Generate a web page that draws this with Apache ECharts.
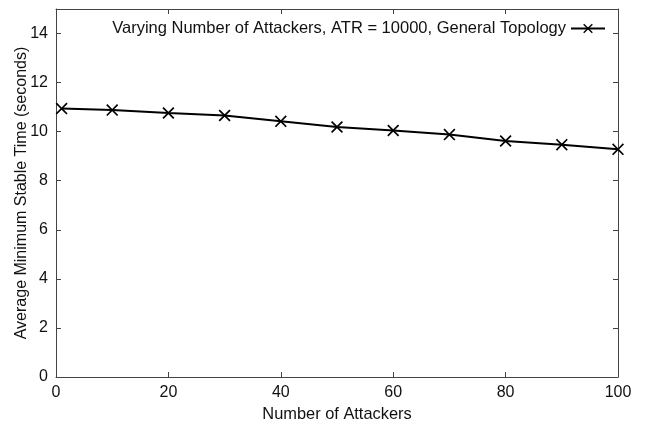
<!DOCTYPE html>
<html><head><meta charset="utf-8">
<script src="https://cdn.jsdelivr.net/npm/echarts@6/dist/echarts.min.js"></script>
<style>html,body{margin:0;padding:0;background:#fff}#c{width:645px;height:423px}</style>
</head><body><div id="c"></div>
<script>
const attackers = [1, 10, 20, 30, 40, 50, 60, 70, 80, 90, 100];
const stableTime = [10.94, 10.88, 10.76, 10.66, 10.42, 10.19, 10.05, 9.88, 9.62, 9.47, 9.28];
const seriesName = 'Varying Number of Attackers, ATR = 10000, General Topology';
const xTitle = 'Number of Attackers';
const yTitle = 'Average Minimum Stable Time (seconds)';

const font = 'Liberation Sans, Arial, sans-serif';
const axisColor = '#444';
const xMark = 'path://M0,1L1,0L5,4L9,0L10,1L6,5L10,9L9,10L5,6L1,10L0,9L4,5Z';

const chart = echarts.init(document.getElementById('c'));
const baseX = {
  type: 'value', min: 0, max: 100, interval: 20,
  axisLine: {show: true, onZero: false, lineStyle: {color: axisColor, width: 1}},
  axisTick: {show: true, inside: true, length: 5, lineStyle: {color: axisColor}},
  splitLine: {show: false}
};
const baseY = {
  type: 'value', min: 0, max: 15, interval: 2,
  axisLine: {show: true, onZero: false, lineStyle: {color: axisColor, width: 1}},
  axisTick: {show: true, inside: true, length: 5, lineStyle: {color: axisColor}},
  splitLine: {show: false}
};
chart.setOption({
  animation: false,
  backgroundColor: '#fff',
  textStyle: {fontFamily: font},
  grid: {left: 56, right: 27, top: 9, bottom: 46, outerBoundsMode: 'none', containLabel: false},
  legend: {
    right: 34, top: 15, align: 'right',
    itemWidth: 34, itemHeight: 12, itemGap: 5,
    textStyle: {fontSize: 16.5, color: '#111', fontFamily: font},
    data: [seriesName]
  },
  xAxis: [
    Object.assign({}, baseX, {
      name: xTitle, nameLocation: 'middle', nameGap: 29, nameMoveOverlap: false,
      nameTextStyle: {fontSize: 16.4, color: '#111', fontFamily: font},
      axisLabel: {fontSize: 16, color: '#111', margin: 8, fontFamily: font}
    }),
    Object.assign({}, baseX, {position: 'top', axisLabel: {show: false}})
  ],
  yAxis: [
    Object.assign({}, baseY, {
      name: yTitle, nameLocation: 'middle', nameGap: 26, nameMoveOverlap: false,
      nameTextStyle: {fontSize: 16, color: '#111', fontFamily: font},
      axisLabel: {fontSize: 16, color: '#111', margin: 8, showMaxLabel: false, fontFamily: font}
    }),
    Object.assign({}, baseY, {position: 'right', axisLabel: {show: false}})
  ],
  series: [{
    name: seriesName, type: 'line',
    data: attackers.map((x, i) => [x, stableTime[i]]),
    symbol: xMark, symbolSize: 12,
    lineStyle: {color: '#000', width: 2},
    itemStyle: {color: '#000'},
    clip: false
  }]
});
</script></body></html>
